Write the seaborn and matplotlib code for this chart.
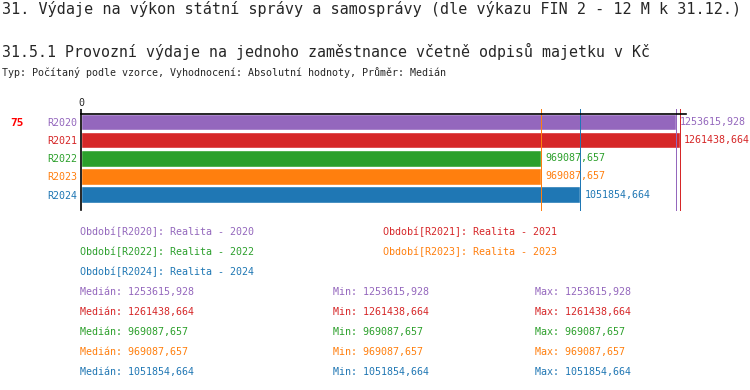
import matplotlib
matplotlib.use("Agg")
import matplotlib.pyplot as plt
import seaborn as sns
import pandas as pd

# data
periods = ["R2020", "R2021", "R2022", "R2023", "R2024"]
years = ["2020", "2021", "2022", "2023", "2024"]
values = [1253615.928, 1261438.664, 969087.657, 969087.657, 1051854.664]
medians = [1253615.928, 1261438.664, 969087.657, 969087.657, 1051854.664]
mins = [1253615.928, 1261438.664, 969087.657, 969087.657, 1051854.664]
maxs = [1253615.928, 1261438.664, 969087.657, 969087.657, 1051854.664]
colors = ["#9467bd", "#d62728", "#2ca02c", "#ff7f0e", "#1f77b4"]

title = "31. Výdaje na výkon státní správy a samosprávy (dle výkazu FIN 2 - 12 M k 31.12.)"
subtitle = "31.5.1 Provozní výdaje na jednoho zaměstnance včetně odpisů majetku v Kč"
info = "Typ: Počítaný podle vzorce, Vyhodnocení: Absolutní hodnoty, Průměr: Medián"
rank = "75"

sns.set_style("white")
plt.rcParams['font.family'] = ['DejaVu Sans Mono', 'DejaVu Sans']

W, H = 750, 390
fig = plt.figure(figsize=(7.5, 3.9), dpi=100)

def fx(px):
    return px / W

def fy(py):
    return 1 - py / H

def fmt(v):
    return f"{v:.3f}".replace(".", ",")

# header texts
fig.text(fx(2), fy(9), title, fontsize=10.9, va="center", ha="left")
fig.text(fx(2), fy(51), subtitle, fontsize=10.7, va="center", ha="left")
fig.text(fx(2), fy(73), info, fontsize=7.2, va="center", ha="left")
fig.text(fx(10), fy(123), rank, fontsize=8, va="center", ha="left",
         color="#ff0000", fontweight="bold")

# bar axes
left, right, top, bottom = 81, 686, 114, 210
ax = fig.add_axes([fx(left), fy(bottom), (right - left) / W, (bottom - top) / H])
df = pd.DataFrame({"period": periods, "value": values})
sns.barplot(data=df, x="value", y="period", hue="period", palette=colors,
            orient="h", width=0.89, legend=False, ax=ax, saturation=1)
ax.set_xlim(0, 1274700)
ax.set_ylim(4.86, -0.47)
ax.set_xlabel("")
ax.set_ylabel("")

for s in ["right", "bottom"]:
    ax.spines[s].set_visible(False)
for s in ["left", "top"]:
    ax.spines[s].set_color("black")
    ax.spines[s].set_linewidth(1.2)

ax.xaxis.tick_top()
ax.set_xticks([0])
ax.set_xticklabels(["0"], fontsize=7.2)
ax.tick_params(axis="x", length=3.6, width=1.2, pad=1, color="black")
ax.tick_params(axis="y", length=0, pad=3)
ax.set_yticks(range(len(periods)))
ax.set_yticklabels(periods, fontsize=7.2)
for lab, c in zip(ax.get_yticklabels(), colors):
    lab.set_color(c)

# median lines
ext = 5 / (bottom - top)
for m, c in zip(medians, colors):
    ax.axvline(m, ymin=0, ymax=1 + ext, color=c, lw=0.72, clip_on=False,
               antialiased=False, solid_capstyle="butt")

# value labels
for i, (v, c) in enumerate(zip(values, colors)):
    ax.annotate(fmt(v), (v, i), xytext=(3, 0), textcoords="offset points",
                va="center", ha="left", fontsize=7.2, color=c,
                annotation_clip=False)

# legend block
leg_pos = [(80, 232), (383, 232), (80, 252), (383, 252), (80, 272)]
for (px, py), p, y, c in zip(leg_pos, periods, years, colors):
    fig.text(fx(px), fy(py), f"Období[{p}]: Realita - {y}", fontsize=7.2,
             va="center", ha="left", color=c)

# stats block
for i, c in enumerate(colors):
    py = 292 + 20 * i
    fig.text(fx(80), fy(py), f"Medián: {fmt(medians[i])}", fontsize=7.2,
             va="center", ha="left", color=c)
    fig.text(fx(333), fy(py), f"Min: {fmt(mins[i])}", fontsize=7.2,
             va="center", ha="left", color=c)
    fig.text(fx(535), fy(py), f"Max: {fmt(maxs[i])}", fontsize=7.2,
             va="center", ha="left", color=c)

fig.savefig("out.png", dpi=100)
